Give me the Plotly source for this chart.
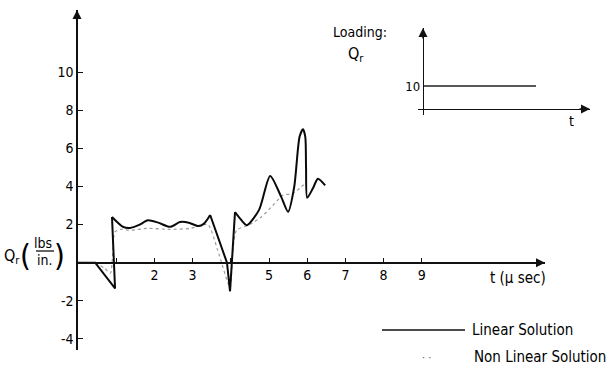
import plotly.graph_objects as go

W, H = 608, 369

# ---- data ----
lin_t = [0, 0.45, 0.97, 0.89, 1.18, 1.36, 1.6, 1.83, 2.1, 2.41, 2.67, 2.9, 3.15, 3.3, 3.46, 3.9, 3.98,
         4.11, 4.25, 4.42, 4.74, 5.03, 5.32, 5.5, 5.66, 5.8, 5.89, 5.95, 5.97, 6.0, 6.15, 6.28, 6.47]
lin_q = [0, 0, -1.35, 2.4, 1.88, 1.82, 1.98, 2.23, 2.1, 1.88, 2.13, 2.1, 1.92, 2.05, 2.5, 0, -1.5,
         2.65, 2.3, 1.97, 2.77, 4.55, 3.45, 2.67, 3.97, 6.6, 7.0, 6.6, 5.0, 3.4, 3.9, 4.4, 4.05]
# index ranges of the linear-solution curve: (start, end, shape)
lin_segments = [(0, 3, "linear"), (3, 14, "spline"), (14, 17, "linear"), (17, 32, "spline")]

non_t = [0.45, 0.7, 0.85, 0.9, 0.93, 0.96, 1.1, 1.4, 1.8, 2.4, 2.95, 3.4, 3.65, 3.98, 4.05, 4.15,
         4.5, 4.8, 5.1, 5.37, 5.6, 5.8, 5.97]
non_q = [0, -0.3, -0.55, 0.2, 1.2, 1.6, 1.75, 1.7, 1.8, 1.75, 1.8, 2.0, 0.7, -1.3, 0.5, 1.7,
         2.0, 2.4, 3.0, 3.55, 3.6, 3.9, 4.2]

x_ticks = [1, 2, 3, 4, 5, 6, 7, 8, 9]
x_labels = ["", "2", "3", "", "5", "6", "7", "8", "9"]
y_ticks = [-4, -2, 2, 4, 6, 8, 10]
y_labels = ["-4", "-2", "2", "4", "6", "8", "10"]

load_t = [0, 113]
load_q = [10, 10]

FONT = "DejaVu Sans Condensed, Liberation Sans Narrow, DejaVu Sans, sans-serif"

def px(x):
    return x / W

def py(y):
    return 1 - y / H

fig = go.Figure()
fig.add_trace(go.Scatter(x=non_t, y=non_q, mode="lines",
                         line=dict(color="#9a9a9a", width=1.2, dash="dot", shape="spline", smoothing=0.6),
                         xaxis="x", yaxis="y", showlegend=False))
for a, b, shp in lin_segments:
    fig.add_trace(go.Scatter(x=lin_t[a:b + 1], y=lin_q[a:b + 1], mode="lines",
                             line=dict(color="#0a0a0a", width=2, shape=shp, smoothing=0.7),
                             xaxis="x", yaxis="y", showlegend=False))
fig.add_trace(go.Scatter(x=load_t, y=load_q, mode="lines",
                         line=dict(color="#222", width=1.3),
                         xaxis="x2", yaxis="y2", showlegend=False))

# main axes: x 0 at px 78, 38.2 px/unit ; y 0 at py 262.7, 19.07 px/unit
x0p, xs = 78, 38.2
y0p, ys = 262.7, 19.07
xl, xr = 78, 545
yt, yb = 10, 350
fig.update_layout(
    width=W, height=H, margin=dict(l=0, r=0, t=0, b=0),
    paper_bgcolor="white", plot_bgcolor="rgba(0,0,0,0)",
    font=dict(family=FONT, size=14, color="#000"),
    xaxis=dict(domain=[px(xl), px(xr)], range=[(xl - x0p) / xs, (xr - x0p) / xs],
               anchor="free", position=py(y0p), showline=True, linecolor="#111", linewidth=1.5,
               showgrid=False, zeroline=False, tickmode="array", tickvals=x_ticks, ticktext=x_labels,
               ticks="inside", ticklen=4, tickcolor="#111", tickfont=dict(size=14, family=FONT, color="#000")),
    yaxis=dict(domain=[py(yb), py(yt)], range=[-(yb - y0p) / ys, (y0p - yt) / ys],
               anchor="x", showline=True, linecolor="#111", linewidth=1.5,
               showgrid=False, zeroline=False, tickmode="array", tickvals=y_ticks, ticktext=y_labels,
               ticks="inside", ticklen=5, tickcolor="#111", tickfont=dict(size=14, family=FONT, color="#000")),
    xaxis2=dict(domain=[px(418), px(590)], range=[-5, 167], anchor="free", position=py(109),
                showline=True, linecolor="#111", linewidth=1.3, showgrid=False, zeroline=False,
                showticklabels=False, ticks=""),
    yaxis2=dict(domain=[py(115), py(28)], range=[-(115 - 109) / 2.3, (109 - 28) / 2.3],
                anchor="free", position=px(423), showline=True, linecolor="#111", linewidth=1.3,
                showgrid=False, zeroline=False, tickmode="array", tickvals=[10], ticktext=["10"],
                ticks="", tickfont=dict(size=13, family=FONT, color="#000")),
)

ann = []
def arrow(x, y, ax, ay):
    ann.append(dict(x=px(x), y=py(y), xref="paper", yref="paper", text="", showarrow=True,
                    ax=ax, ay=ay, arrowhead=2, arrowsize=1.2, arrowwidth=1.5, arrowcolor="#111"))
arrow(77, 10, 0, 14)
arrow(545, 262.7, -14, 0)
arrow(423, 28, 0, 12)
arrow(590, 109, -12, 0)

def text(x, y, s, size=14, xanchor="center", color="#000"):
    ann.append(dict(x=px(x), y=py(y), xref="paper", yref="paper", text=s, showarrow=False,
                    xanchor=xanchor, yanchor="middle", font=dict(size=size, family=FONT, color=color)))

text(518, 278, "t (μ sec)", 15)
text(360, 32, "Loading:", 14)
text(356, 54, "Q<sub>r</sub>", 16)
text(571, 121, "t", 14)
text(12, 256, "Q<sub>r</sub>", 16)
text(25, 255, "(", 31)
text(43, 243, "lbs", 14)
text(44, 260, "in.", 14)
text(59, 255, ")", 31)
text(470, 330, "Linear Solution", 15, "left")
text(472, 357, "Non Linear Solution", 15, "left")
text(426, 357, "· ·", 11, "center", "#555")
fig.update_layout(annotations=ann)

fig.add_shape(type="line", xref="paper", yref="paper", x0=px(36), x1=px(54), y0=py(251), y1=py(251),
              line=dict(color="#111", width=1.3))
fig.add_shape(type="line", xref="paper", yref="paper", x0=px(382), x1=px(465), y0=py(330), y1=py(330),
              line=dict(color="#111", width=1.5))

fig.write_html("out.html")
